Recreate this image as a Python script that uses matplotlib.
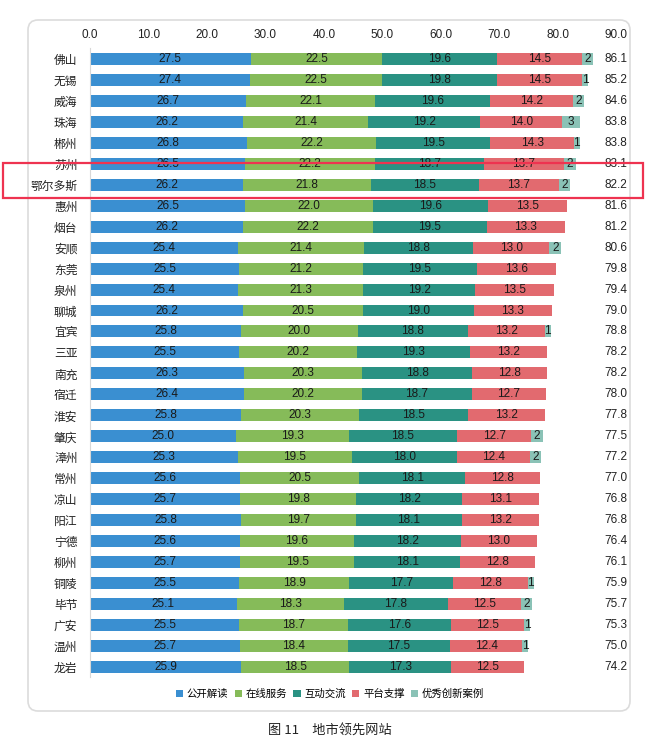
import matplotlib
matplotlib.use("Agg")
import matplotlib.pyplot as plt
from matplotlib import font_manager
from matplotlib.patches import Patch, FancyBboxPatch, Rectangle

names = {f.name for f in font_manager.fontManager.ttflist}
NUM_FONT = 'Liberation Sans Narrow' if 'Liberation Sans Narrow' in names else 'Liberation Sans'
CJK = 'Noto Sans CJK SC'
plt.rcParams['font.family'] = [NUM_FONT, CJK, 'DejaVu Sans']

cities = ['佛山', '无锡', '威海', '珠海', '郴州', '苏州', '鄂尔多斯', '惠州', '烟台', '安顺',
          '东莞', '泉州', '聊城', '宜宾', '三亚', '南充', '宿迁', '淮安', '肇庆', '漳州',
          '常州', '凉山', '阳江', '宁德', '柳州', '铜陵', '毕节', '广安', '温州', '龙岩']
gongkai = [27.5, 27.4, 26.7, 26.2, 26.8, 26.5, 26.2, 26.5, 26.2, 25.4,
           25.5, 25.4, 26.2, 25.8, 25.5, 26.3, 26.4, 25.8, 25.0, 25.3,
           25.6, 25.7, 25.8, 25.6, 25.7, 25.5, 25.1, 25.5, 25.7, 25.9]
zaixian = [22.5, 22.5, 22.1, 21.4, 22.2, 22.2, 21.8, 22.0, 22.2, 21.4,
           21.2, 21.3, 20.5, 20.0, 20.2, 20.3, 20.2, 20.3, 19.3, 19.5,
           20.5, 19.8, 19.7, 19.6, 19.5, 18.9, 18.3, 18.7, 18.4, 18.5]
hudong = [19.6, 19.8, 19.6, 19.2, 19.5, 18.7, 18.5, 19.6, 19.5, 18.8,
          19.5, 19.2, 19.0, 18.8, 19.3, 18.8, 18.7, 18.5, 18.5, 18.0,
          18.1, 18.2, 18.1, 18.2, 18.1, 17.7, 17.8, 17.6, 17.5, 17.3]
pingtai = [14.5, 14.5, 14.2, 14.0, 14.3, 13.7, 13.7, 13.5, 13.3, 13.0,
           13.6, 13.5, 13.3, 13.2, 13.2, 12.8, 12.7, 13.2, 12.7, 12.4,
           12.8, 13.1, 13.2, 13.0, 12.8, 12.8, 12.5, 12.5, 12.4, 12.5]
chuangxin = [2, 1, 2, 3, 1, 2, 2, 0, 0, 2,
             0, 0, 0, 1, 0, 0, 0, 0, 2, 2,
             0, 0, 0, 0, 0, 1, 2, 1, 1, 0]
totals = [86.1, 85.2, 84.6, 83.8, 83.8, 83.1, 82.2, 81.6, 81.2, 80.6,
          79.8, 79.4, 79.0, 78.8, 78.2, 78.2, 78.0, 77.8, 77.5, 77.2,
          77.0, 76.8, 76.8, 76.4, 76.1, 75.9, 75.7, 75.3, 75.0, 74.2]
series_names = ['公开解读', '在线服务', '互动交流', '平台支撑', '优秀创新案例']
x_ticks = [0, 10, 20, 30, 40, 50, 60, 70, 80, 90]

colors = ['#3a8fd1', '#86bb59', '#2a9283', '#e26a6f', '#8ac2b6']
series = [gongkai, zaixian, hudong, pingtai, chuangxin]

W, H = 668, 740
fig = plt.figure(figsize=(W / 100, H / 100), dpi=100)

# main axes geometry (pixels)
x0, x1 = 90, 616
y_top, y_bot = 48, 677
ax = fig.add_axes([x0 / W, 1 - y_bot / H, (x1 - x0) / W, (y_bot - y_top) / H])

n = len(cities)
ypos = list(range(n))
left = [0.0] * n
for si, (vals, col) in enumerate(zip(series, colors)):
    ax.barh(ypos, vals, left=left, height=0.57, color=col, edgecolor='none', zorder=2)
    for i, v in enumerate(vals):
        if v > 0:
            lab = f'{v:d}' if isinstance(v, int) else f'{v:.1f}'
            ax.text(left[i] + v / 2, i, lab, ha='center', va='center',
                    fontsize=8.5, color='#1a1a1a', family=[NUM_FONT, CJK], zorder=3)
    left = [l + v for l, v in zip(left, vals)]

for i, t in enumerate(totals):
    ax.text(90, i, f'{t:.1f}', ha='center', va='center', fontsize=8.5,
            color='#222222', family=[NUM_FONT, CJK])

ax.set_xlim(0, 90)
ax.set_ylim(29.48, -0.52)
ax.set_yticks(ypos)
ax.set_yticklabels(cities, family=[CJK], fontsize=8.5, color='#222222', fontweight='medium')
ax.tick_params(axis='y', length=0, pad=9)
ax.xaxis.tick_top()
ax.set_xticks(x_ticks)
ax.set_xticklabels([f'{v:.1f}' for v in x_ticks], fontsize=8.5, color='#222222')
ax.tick_params(axis='x', length=0, pad=5)
for s in ['top', 'right', 'bottom']:
    ax.spines[s].set_visible(False)
ax.spines['left'].set_color('#d8d8d8')
ax.spines['left'].set_linewidth(0.8)
ax.patch.set_visible(False)

# legend
handles = [Patch(facecolor=c, edgecolor='none') for c in colors]
fig.legend(handles, series_names, loc='center', bbox_to_anchor=(330 / W, 1 - 694 / H),
           ncol=5, frameon=False, handlelength=0.7, handleheight=0.7,
           handletextpad=0.35, columnspacing=0.6,
           prop={'family': [CJK], 'size': 7.5})

# overlay for card and highlight box (pixel coordinates)
ov = fig.add_axes([0, 0, 1, 1], zorder=5)
ov.set_xlim(0, W)
ov.set_ylim(H, 0)
ov.axis('off')
ov.patch.set_visible(False)
card = FancyBboxPatch((28, 20), 602, 691, boxstyle='round,pad=0,rounding_size=10',
                      facecolor='none', edgecolor='#dcdcdc', linewidth=1.2)
ov.add_patch(card)
hl = Rectangle((3, 163), 640, 35, facecolor='none', edgecolor='#ee3350', linewidth=1.6)
ov.add_patch(hl)

fig.text(330 / W, 1 - 731 / H, '图 11\u3000地市领先网站', ha='center', va='center',
         fontsize=9.5, family=[CJK, 'DejaVu Sans'], color='#222222')

fig.savefig('out.png', dpi=100)
